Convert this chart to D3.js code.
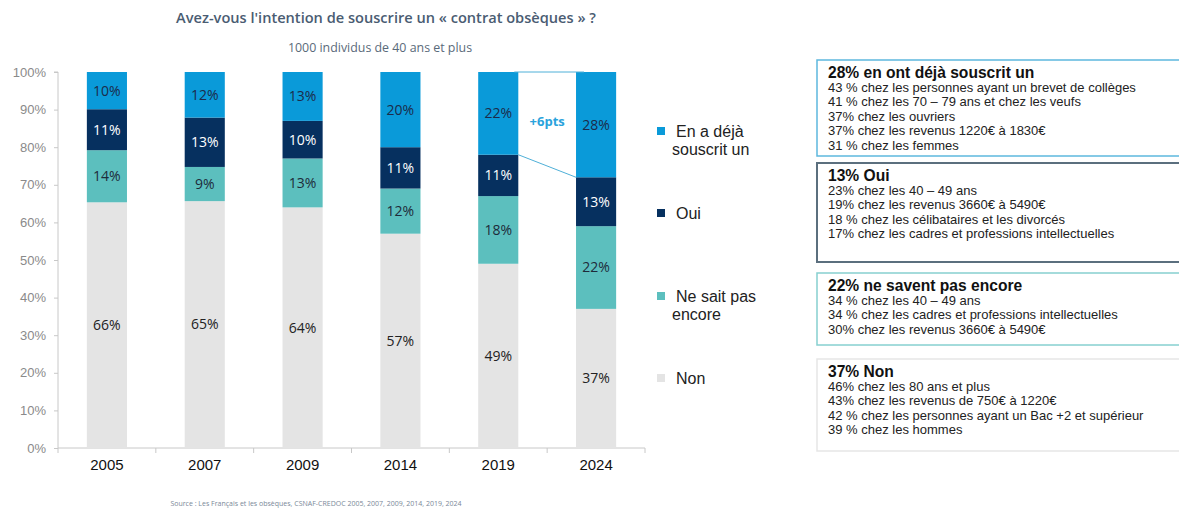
<!DOCTYPE html>
<html><head><meta charset="utf-8">
<script src="https://cdn.jsdelivr.net/npm/d3@7"></script>
<style>body{margin:0;background:#fff;}svg{display:block;}</style>
</head><body>
<svg id="chart" width="1179" height="510"></svg>
<script>
const years = ["2005","2007","2009","2014","2019","2024"];
const seriesKeys = ["non","nsp","oui","deja"];
const seriesNames = {deja:["En a déjà","souscrit un"], oui:["Oui"], nsp:["Ne sait pas","encore"], non:["Non"]};
const nonValues  = [66,65,64,57,49,37];
const nspValues  = [14,9,13,12,18,22];
const ouiValues  = [11,13,10,11,11,13];
const dejaValues = [10,12,13,20,22,28];
const yTicks = [0,0.1,0.2,0.3,0.4,0.5,0.6,0.7,0.8,0.9,1];
const colors = {deja:"#0a9ad9", oui:"#06305f", nsp:"#5cbfbe", non:"#e4e4e4"};
const labelColors = {deja:"#1c2b4a", oui:"#ffffff", nsp:"#1e2b3a", non:"#222"};
const title = "Avez-vous l'intention de souscrire un « contrat obsèques » ?";
const subtitle = "1000 individus de 40 ans et plus";
const source = "Source : Les Français et les obsèques, CSNAF-CREDOC 2005, 2007, 2009, 2014, 2019, 2024";
const boxes = [
  {head:"28% en ont déjà souscrit un", border:"#5db8de", bw:1.5, lines:[
    "43 % chez les personnes ayant un brevet de collèges",
    "41 % chez les 70 – 79 ans et chez les veufs",
    "37% chez les ouvriers",
    "37% chez les revenus 1220€ à 1830€",
    "31 % chez les femmes"]},
  {head:"13% Oui", border:"#5b6f7e", bw:2, lines:[
    "23% chez les 40 – 49 ans",
    "19% chez les revenus 3660€ à 5490€",
    "18 % chez les célibataires et les divorcés",
    "17% chez les cadres et professions intellectuelles"]},
  {head:"22% ne savent pas encore", border:"#86d0d0", bw:1.5, lines:[
    "34 % chez les 40 – 49 ans",
    "34 % chez les cadres et professions intellectuelles",
    "30% chez les revenus 3660€ à 5490€"]},
  {head:"37% Non", border:"#e6e6e6", bw:1.5, lines:[
    "46% chez les 80 ans et plus",
    "43% chez les revenus de 750€ à 1220€",
    "42 % chez les personnes ayant un Bac +2 et supérieur",
    "39 % chez les hommes"]}
];
const boxPos = [[60,156],[163,262],[273,345],[359,451]];

const data = years.map((y,i)=>({year:y, non:nonValues[i], nsp:nspValues[i], oui:ouiValues[i], deja:dejaValues[i]}));
const svg = d3.select("#chart");
const m = {left:58, right:645, top:72, bottom:448};
const x = d3.scaleBand().domain(years).range([m.left,m.right]).paddingInner(0.59).paddingOuter(0.295);
const xb = d3.scaleBand().domain(years).range([m.left,m.right]);
const y = d3.scaleLinear().domain([0,1]).range([m.bottom,m.top]);

svg.append("text").attr("x",386).attr("y",23).attr("text-anchor","middle")
  .attr("font-family","Open Sans").attr("font-weight",600).attr("font-size",14.6).attr("fill","#4a5c72").text(title);
svg.append("text").attr("x",380).attr("y",52).attr("text-anchor","middle")
  .attr("font-family","Open Sans").attr("font-size",12.4).attr("fill","#5a6a7a").text(subtitle);
svg.append("text").attr("x",316).attr("y",506).attr("text-anchor","middle")
  .attr("font-family","Open Sans").attr("font-size",7).attr("fill","#7a8898").text(source);

// y axis
const yAxis = svg.append("g").attr("transform",`translate(${m.left},0)`)
  .call(d3.axisLeft(y).tickValues(yTicks).tickFormat(d3.format(".0%")).tickSize(4).tickPadding(8));
yAxis.select(".domain").attr("stroke","#c8c8c8").attr("d",`M-4,${m.top}H0V${m.bottom}`);
yAxis.selectAll(".tick line").attr("stroke","#c8c8c8");
yAxis.selectAll(".tick text").attr("font-family","Liberation Sans, Arial").attr("font-size",13).attr("fill","#8a8a8a");

// x axis
const xAxis = svg.append("g").attr("transform",`translate(0,${m.bottom})`)
  .call(d3.axisBottom(xb).tickSize(0).tickPadding(11));
xAxis.select(".domain").attr("stroke","#c8c8c8").attr("d",`M${m.left},0H${m.right}`);
xAxis.selectAll(".tick text").attr("font-family","Liberation Sans, Arial").attr("font-size",15).attr("fill","#111");
const bounds = years.map(yy=>xb(yy)+xb.bandwidth()).concat([m.left]);
svg.append("g").selectAll("line").data(bounds).join("line")
  .attr("x1",d=>d).attr("x2",d=>d).attr("y1",m.bottom).attr("y2",m.bottom+5).attr("stroke","#c8c8c8");

// stacked bars
const stack = d3.stack().keys(seriesKeys).offset(d3.stackOffsetExpand)(data);
const g = svg.append("g");
stack.forEach(layer=>{
  const key = layer.key;
  g.append("g").selectAll("rect").data(layer).join("rect")
    .attr("x",d=>x(d.data.year)).attr("width",x.bandwidth())
    .attr("y",d=>y(d[1])).attr("height",d=>y(d[0])-y(d[1]))
    .attr("fill",colors[key]);
  g.append("g").selectAll("text").data(layer).join("text")
    .attr("x",d=>x(d.data.year)+x.bandwidth()/2)
    .attr("y",d=>(y(d[0])+y(d[1]))/2).attr("dy","0.35em")
    .attr("text-anchor","middle").attr("font-family","Open Sans").attr("font-size",14)
    .attr("fill",labelColors[key]).text(d=>d.data[key]+"%");
});

// +6pts connector between 2019 and 2024
const l19 = stack[3][4], l24 = stack[3][5];
const xr = x("2019")+x.bandwidth(), xl = x("2024");
svg.append("line").attr("x1",xr-4).attr("x2",xl+8).attr("y1",y(l19[1])).attr("y2",y(l24[1]))
  .attr("stroke","#4fb0d8").attr("stroke-width",1);
svg.append("line").attr("x1",xr).attr("x2",xl).attr("y1",y(l19[0])).attr("y2",y(l24[0]))
  .attr("stroke","#4fb0d8").attr("stroke-width",1);
svg.append("text").attr("x",(xr+xl)/2).attr("y",126).attr("text-anchor","middle")
  .attr("font-family","Open Sans").attr("font-weight",700).attr("font-size",13).attr("fill","#2aa3dc")
  .text("+"+(dejaValues[5]-dejaValues[4])+"pts");

// legend
const legY = {deja:131, oui:213, nsp:296, non:378};
const leg = svg.append("g");
["deja","oui","nsp","non"].forEach(k=>{
  leg.append("rect").attr("x",657).attr("y",legY[k]-4).attr("width",8).attr("height",8).attr("fill",colors[k]);
  seriesNames[k].forEach((t,i)=>{
    leg.append("text").attr("x",i===0?676:672).attr("y",legY[k]+i*18).attr("dy","0.35em")
      .attr("font-family","Liberation Sans, Arial").attr("font-size",16).attr("fill","#222").text(t);
  });
});

// boxes
boxes.forEach((b,i)=>{
  const [y0,y1] = boxPos[i];
  const bg = svg.append("g");
  bg.append("rect").attr("x",817).attr("y",y0).attr("width",380).attr("height",y1-y0)
    .attr("fill","#fff").attr("stroke",b.border).attr("stroke-width",b.bw);
  bg.append("text").attr("x",828).attr("y",y0+18).attr("font-family","Liberation Sans, Arial")
    .attr("font-weight",700).attr("font-size",15.6).attr("fill","#111").text(b.head);
  b.lines.forEach((t,j)=>{
    bg.append("text").attr("x",828).attr("y",y0+32+j*14.4).attr("font-family","Liberation Sans, Arial")
      .attr("font-size",13).attr("fill","#222").text(t);
  });
});
</script>
</body></html>
